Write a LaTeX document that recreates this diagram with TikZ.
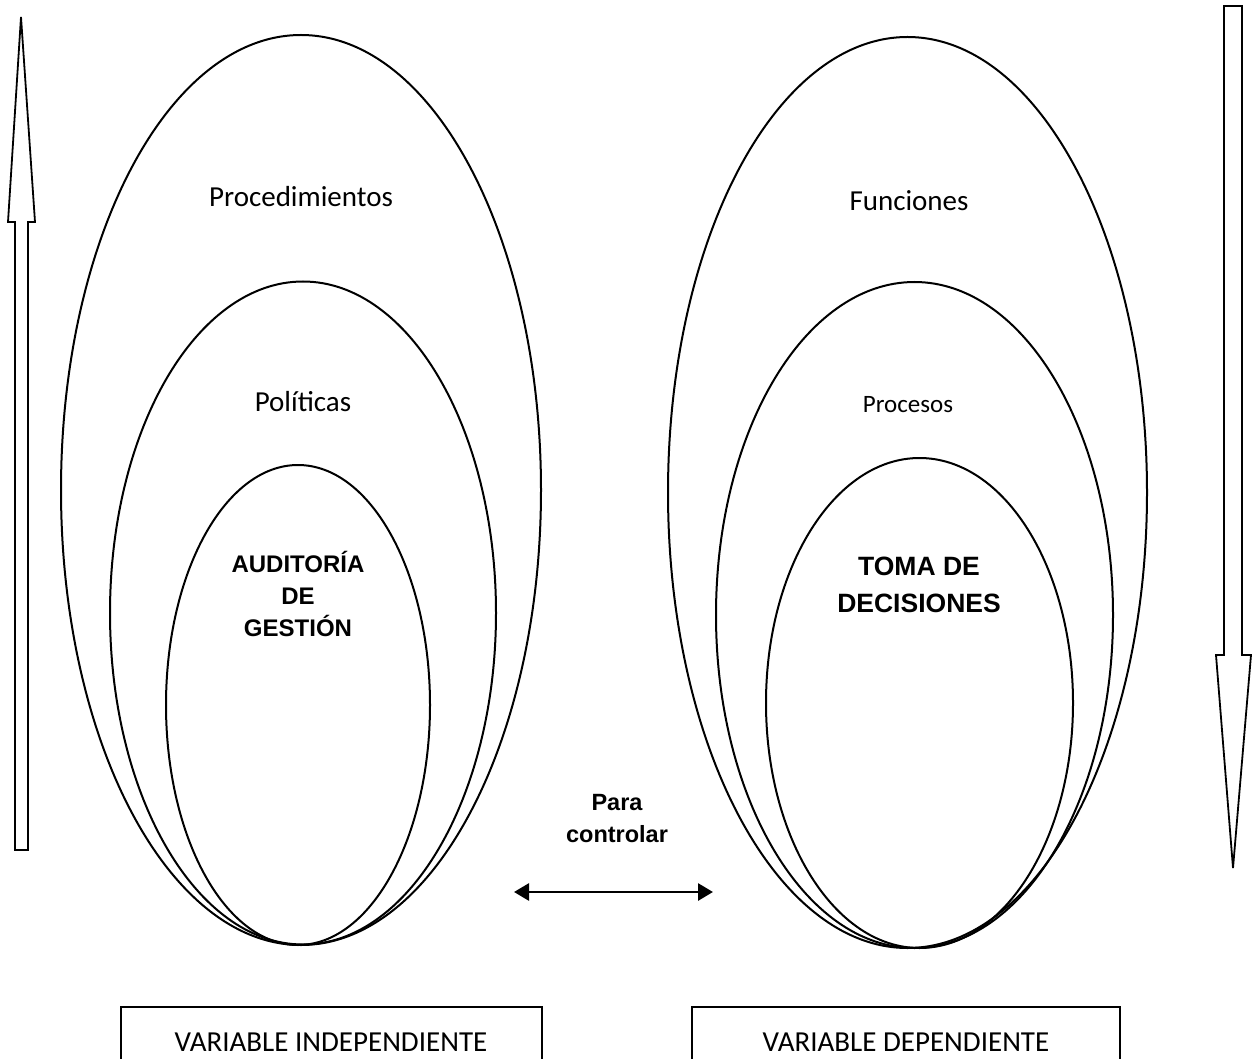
\documentclass[tikz,border=0pt]{standalone}
\usepackage{fontspec}
\setmainfont{Carlito}
\newfontfamily\arialfont{Liberation Sans}
\usetikzlibrary{shapes.geometric,arrows.meta}
\begin{document}
\begin{tikzpicture}[x=1pt,y=-1pt,
  ring/.style={draw, ellipse, line width=2pt, inner sep=0pt},
  label/.style={inner sep=0pt, font=\fontsize{29}{35}\selectfont},
  boldlabel/.style={inner sep=0pt, align=center, font=\arialfont\bfseries\fontsize{24}{32}\selectfont},
  varbox/.style={draw, line width=1.6pt},
  blockarrow/.style={draw, line width=1.8pt, line join=miter, fill=white},
  twoway/.style={line width=2.8pt, {Triangle[length=15pt,width=17pt]}-{Triangle[length=15pt,width=17pt]}}
]
\clip (0,0) rectangle (1256,1059);
\fill[white] (0,0) rectangle (1256,1059);

% left group: independent variable
\node[ring, minimum width=480pt, minimum height=910pt] (outerL) at (301,490) {};
\node[ring, minimum width=386pt, minimum height=663pt] (midL) at (303,613) {};
\node[ring, minimum width=264pt, minimum height=480pt] (innerL) at (298,705) {};
\node[label] (procL) at (301,197) {Procedimientos};
\node[label] (polL) at (303,402) {Políticas};
\node[boldlabel] (audL) at (298,594) {AUDITORÍA\\DE\\GESTIÓN};

% right group: dependent variable
\node[ring, minimum width=479pt, minimum height=911pt] (outerR) at (907.5,492.5) {};
\node[ring, minimum width=397pt, minimum height=666pt] (midR) at (914.5,615) {};
\node[ring, minimum width=307pt, minimum height=490pt] (innerR) at (919.5,703) {};
\node[label] (funR) at (909,201) {Funciones};
\node[label, font=\fontsize{25}{30}\selectfont] (procR) at (908,405) {Procesos};
\node[boldlabel, font=\arialfont\bfseries\fontsize{26.5}{37}\selectfont] (tomaR) at (919,585) {TOMA DE\\DECISIONES};

% link between both groups
\node[boldlabel, font=\arialfont\bfseries\fontsize{23.5}{32}\selectfont] (para) at (617,819) {Para\\controlar};
\coordinate (linkL) at (514,892);
\coordinate (linkR) at (713,892);
\draw[twoway] (linkL) -- (linkR);

% variable boxes
\draw[varbox] (121,1007) rectangle (542,1080);
\node[label] (indep) at (331,1042) {VARIABLE INDEPENDIENTE};
\draw[varbox] (692,1007) rectangle (1120,1080);
\node[label] (dep) at (906,1042) {VARIABLE DEPENDIENTE};

% block arrow pointing up
\draw[blockarrow] (15,850) -- (15,222) -- (8,222) -- (21,17) -- (35,222) -- (28,222) -- (28,850) -- cycle;
% block arrow pointing down
\draw[blockarrow] (1224,6) -- (1242,6) -- (1242,655) -- (1251,655) -- (1233,868) -- (1216,655) -- (1224,655) -- cycle;
\end{tikzpicture}
\end{document}
